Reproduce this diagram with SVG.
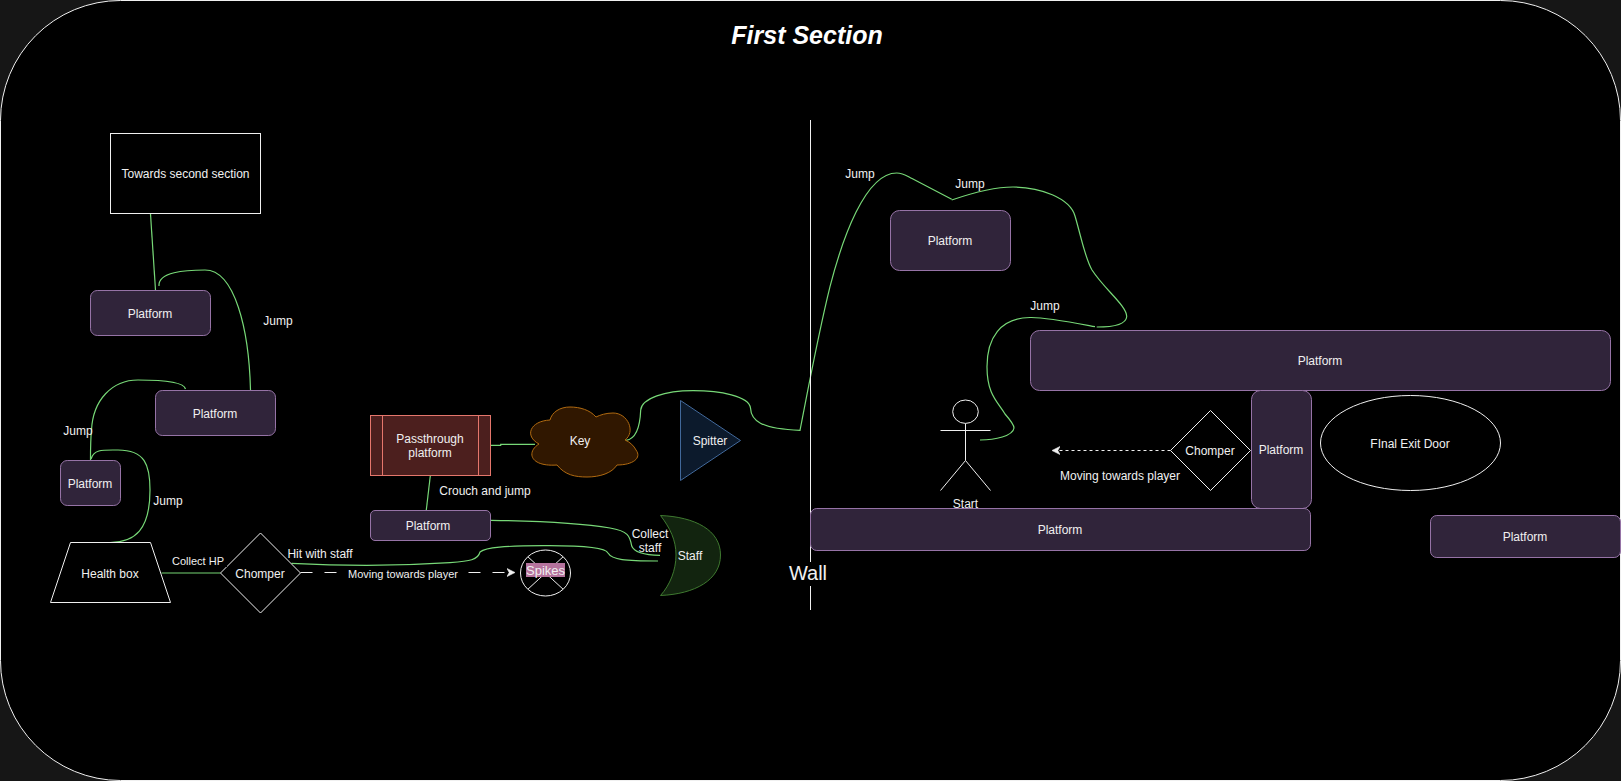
<svg xmlns="http://www.w3.org/2000/svg" width="1621" height="781" viewBox="0 0 1621 781">
<style>
text{font-family:"Liberation Sans",Arial,sans-serif;font-size:12px;fill:#f0f0f0;text-anchor:middle}
.plat{fill:#30243a;stroke:#9673a6;stroke-width:1}
.w{fill:#000;stroke:#f0f0f0;stroke-width:1}
.ln{fill:none;stroke:#f0f0f0;stroke-width:1}
.c{fill:none;stroke:#77d877;stroke-width:1.2}
</style>
<defs>
<marker id="arr" markerUnits="userSpaceOnUse" markerWidth="12" markerHeight="10" refX="7" refY="4.5" orient="auto"><path d="M0 0.5L8 4.5L0 8.5L2.2 4.5Z" fill="#f0f0f0" stroke="#f0f0f0" stroke-width="0.6"/></marker>
</defs>
<rect width="1621" height="781" fill="#161616"/>
<rect id="frame" x="0.5" y="0.5" width="1620" height="780" rx="120" ry="120" fill="#000" stroke="#f0f0f0"/>
<text id="title" x="807" y="44" style="font-size:25px;font-weight:bold;font-style:italic;fill:#fff">First Section</text>

<g id="connectors">
<path class="c" d="M150.5 214L155.5 290"/>
<path class="c" d="M250.5 390C249 330 235 270 205 270C185 270 158 272 159 286"/>
<path class="c" d="M185.5 389C184 382 160 380 138 380C112 380 93 400 91.5 430C90.5 440 90.5 450 90.5 460"/>
<path class="c" d="M110 542.5C135 542 150 530 150 490C150 465 145 450 118 450C103 450 94 449 91 459"/>
<path d="M161.5 573L220.5 573" fill="none" stroke="#4f8f4e" stroke-width="1.4"/>
<path class="c" d="M291.5 563.3C340 566 400 566 450 562.7C470 561 478 560 480 552C486 547 505 546 543 545.7C570 545.5 605 546 608 553C612 560 625 561 658 561"/>
<path class="c" d="M491 520.3C530 521 580 523 610 528C628 531 630 536 631.7 546C634 552 645 555 660 555.3"/>
<path class="c" d="M430.3 475.7L426.3 510"/>
<path class="c" d="M491 445.3L500.7 445.3L500.7 444.3L535 444.3"/>
<path class="c" d="M626 440.3C636 439 640 428 640.7 410C642 398 665 390.7 693 390.7C720 390.7 749 396 750.5 408C751 420 760 429 800 430.3C806 400 818 335 830 286.7C842 240 865 173 896.7 173C903 173 907 176 912 178.5L951.7 199.3"/>
<path class="c" d="M951.7 200C975 192 995 187 1013 187C1040 187 1070 198 1075 216C1082 240 1085 258 1092 270C1105 290 1127 306 1126.7 316.7C1126 325 1110 327 1096.7 327"/>
<path class="c" d="M1095 326.7C1070 322 1045 317 1030 317.5C1000 318 987 338 987 366.7C987 395 998 402 1005 414C1012 422 1014 425 1014 428C1013 436 995 440 980 440"/>
<path class="ln" stroke-dasharray="12 12" d="M300.5 572.5L514 572.5" marker-end="url(#arr)"/>
<path class="ln" stroke-dasharray="3 3" d="M1170.5 450.5L1053 450.5" marker-end="url(#arr)"/>
<path class="ln" d="M810.5 120V610"/>
</g>

<g id="towards"><rect class="w" x="110.5" y="133.5" width="150" height="80"/><text x="185.5" y="178">Towards second section</text></g>
<g id="platform-1"><rect class="plat" x="90.5" y="290.5" width="120" height="45" rx="6.75"/><text x="150" y="318">Platform</text></g>
<g id="platform-2"><rect class="plat" x="155.5" y="390.5" width="120" height="45" rx="6.75"/><text x="215" y="418">Platform</text></g>
<g id="platform-3"><rect class="plat" x="60.5" y="460.5" width="60" height="45" rx="6.75"/><text x="90" y="488">Platform</text></g>
<g id="health-box"><path class="w" d="M70.5 542.5H150.5L170.5 602.5H50.5Z"/><text x="110" y="578">Health box</text></g>
<g id="chomper-1"><path class="w" d="M260.5 533L300.5 573L260.5 613L220.5 573Z"/><text x="260" y="578">Chomper</text></g>
<g id="passthrough"><rect x="370.5" y="415.5" width="120" height="60" fill="#4c1f1e" stroke="#e5766c"/><path d="M382.5 415.5V475.5M478.5 415.5V475.5" fill="none" stroke="#e5766c"/><text x="430" y="443">Passthrough</text><text x="430" y="457">platform</text></g>
<g id="platform-4"><rect class="plat" x="370.5" y="510.5" width="120" height="30" rx="4.5"/><text x="428" y="530">Platform</text></g>
<g id="key"><path d="M550 420C530 421 524 436 539 444C526 452 530 467 557 465C565 475 575 477 587 477C600 477 612 473 617 465C633 465 642 458 636 450C634 446 630 442 625 440C636 432 628 413 613 413C606 413 600 415 596 417C590 410 580 407 570 407C560 407 552 412 550 420Z" fill="#301700" stroke="#b06a10"/><text x="580" y="445">Key</text></g>
<g id="spitter"><path d="M680.5 400.5L740.5 440.5L680.5 480.5Z" fill="#0c1a2c" stroke="#41689a"/><text x="710" y="445">Spitter</text></g>
<g id="staff"><path d="M660.5 515.5C695 517 720.5 530 720.5 555C720.5 580 695 594 660.5 595.5C670 585 676 570 676 555C676 540 670 528 660.5 515.5Z" fill="#12240f" stroke="#3f7a30"/><text x="690" y="560">Staff</text></g>
<g id="spikes"><ellipse class="w" cx="545.5" cy="573" rx="25" ry="23"/><path class="ln" d="M527.8 556.7L563.2 589.3M563.2 556.7L527.8 589.3"/><rect x="526" y="563" width="39" height="14" fill="#b5739d"/><text x="545.5" y="575" style="font-size:13px">Spikes</text></g>
<g id="wall"><rect x="790" y="562" width="42" height="24" fill="#000"/><text x="808" y="580" style="font-size:20px">Wall</text></g>
<g id="platform-5"><rect class="plat" x="890.5" y="210.5" width="120" height="60" rx="9"/><text x="950" y="245">Platform</text></g>
<g id="platform-6"><rect class="plat" x="1030.5" y="330.5" width="580" height="60" rx="9"/><text x="1320" y="365">Platform</text></g>
<g id="platform-7"><rect class="plat" x="1251.5" y="390.5" width="60" height="118" rx="9"/><text x="1281" y="454">Platform</text></g>
<g id="platform-8"><rect class="plat" x="810.5" y="508.5" width="500" height="42" rx="6.3"/><text x="1060" y="534">Platform</text></g>
<g id="platform-9"><rect class="plat" x="1430.5" y="515.5" width="190" height="42" rx="6.3"/><text x="1525" y="541">Platform</text></g>
<g id="exit-door"><ellipse class="w" cx="1410.5" cy="443" rx="90" ry="47.5"/><text x="1410" y="448">FInal Exit Door</text></g>
<g id="chomper-2"><path class="w" d="M1210.5 410.5L1250.5 450.5L1210.5 490.5L1170.5 450.5Z"/><text x="1210" y="455">Chomper</text></g>
<g id="start"><ellipse class="ln" cx="965.5" cy="411.7" rx="12.8" ry="11.7"/><path class="ln" d="M965.5 423.5V460.5M940.5 430.5H990.5M965.5 460.5L940.5 490.5M965.5 460.5L990.5 490.5"/><text x="965.5" y="508">Start</text></g>

<g id="labels">
<text x="278" y="325">Jump</text>
<text x="78" y="435">Jump</text>
<text x="168" y="505">Jump</text>
<rect x="172" y="553" width="55" height="14" fill="#000"/>
<text x="198" y="565" style="font-size:11px">Collect HP</text>
<text x="320" y="558">Hit with staff</text>
<rect x="345" y="566" width="116" height="14" fill="#000"/>
<text x="403" y="578" style="font-size:11px">Moving towards player</text>
<text x="485" y="495">Crouch and jump</text>
<text x="650" y="538">Collect</text>
<text x="650" y="552">staff</text>
<text x="860" y="178">Jump</text>
<text x="970" y="188">Jump</text>
<text x="1045" y="310">Jump</text>
<text x="1120" y="480">Moving towards player</text>
</g>
</svg>
